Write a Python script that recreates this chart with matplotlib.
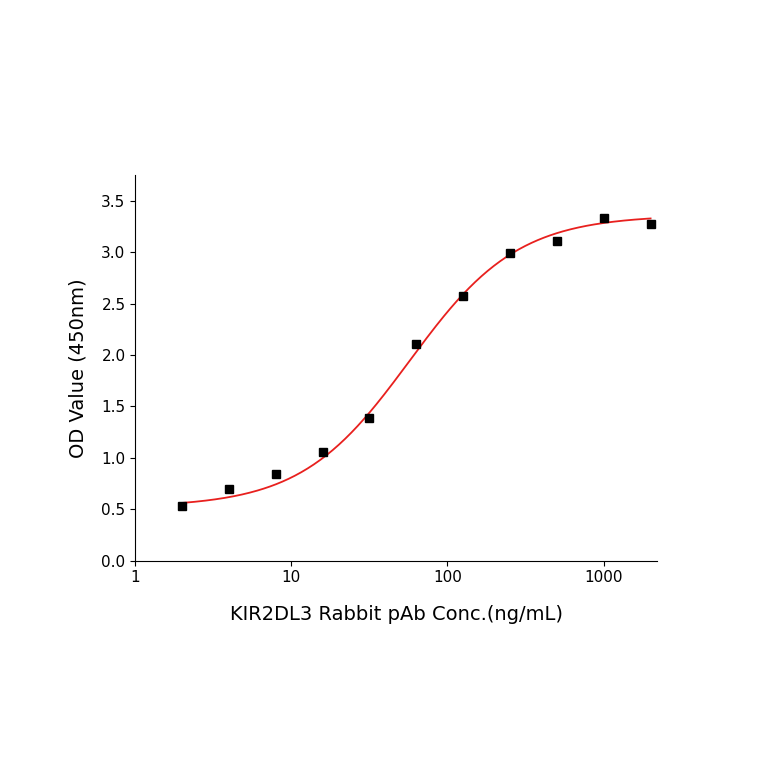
import numpy as np
import matplotlib
matplotlib.use("Agg")
import matplotlib.pyplot as plt

conc = [2, 4, 8, 16, 31.25, 62.5, 125, 250, 500, 1000, 2000]
od = [0.53, 0.70, 0.84, 1.06, 1.39, 2.11, 2.57, 2.99, 3.11, 3.33, 3.27]
# fitted 4PL parameters
A1, A2, X0, P = 0.52, 3.36, 57.0, 1.25

fig = plt.figure(figsize=(7.64, 7.64), dpi=100)
ax = fig.add_axes([0.177, 0.266, 0.683, 0.505])
xs = np.logspace(np.log10(2), np.log10(2000), 300)
ax.plot(xs, A2 + (A1 - A2) / (1 + (xs / X0) ** P), color="#e8201e", lw=1.3)
ax.plot(conc, od, "s", color="black", ms=6)
ax.set_xscale("log")
ax.set_xlim(1, 2200)
ax.set_ylim(0, 3.75)
ax.set_yticks(np.arange(0, 3.51, 0.5))
ax.set_yticklabels([f"{v:.1f}" for v in np.arange(0, 3.51, 0.5)])
ax.set_xticks([1, 10, 100, 1000])
ax.set_xticklabels(["1", "10", "100", "1000"])
ax.minorticks_off()
for s in ["top", "right"]:
    ax.spines[s].set_visible(False)
ax.tick_params(labelsize=11)
ax.set_xlabel("KIR2DL3 Rabbit pAb Conc.(ng/mL)", fontsize=14, labelpad=14)
ax.set_ylabel("OD Value (450nm)", fontsize=14, labelpad=10)
fig.savefig("out.png")
